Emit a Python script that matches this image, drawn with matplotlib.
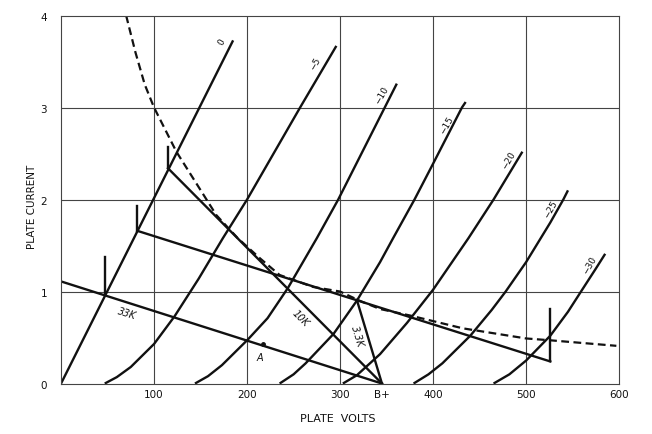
import numpy as np
import matplotlib
matplotlib.use('Agg')
import matplotlib.pyplot as plt

# plate characteristics (plate volts, plate current)
grid_bias = ['0', '\u22125', '\u221210', '\u221215', '\u221220', '\u221225', '\u221230']
curve_v = [
    [0, 185],
    [47, 60, 75, 100, 122, 148, 174, 200, 257, 296],
    [144, 158, 173, 201, 222, 244, 275, 298, 348, 361],
    [235, 250, 263, 293, 318, 343, 357, 380, 400, 431, 435],
    [303, 318, 343, 372, 400, 438, 465, 496],
    [379, 395, 410, 440, 463, 478, 500, 526, 540, 545],
    [465, 482, 500, 526, 545, 559, 575, 585],
]
curve_i = [
    [0, 3.73],
    [0, 0.07, 0.18, 0.43, 0.73, 1.14, 1.58, 2.0, 3.0, 3.67],
    [0, 0.08, 0.2, 0.48, 0.71, 1.04, 1.58, 2.0, 3.0, 3.26],
    [0, 0.1, 0.22, 0.54, 0.90, 1.32, 1.58, 2.0, 2.39, 3.0, 3.06],
    [0, 0.09, 0.32, 0.66, 1.02, 1.58, 2.0, 2.52],
    [0, 0.1, 0.22, 0.52, 0.80, 1.0, 1.32, 1.75, 2.0, 2.1],
    [0, 0.1, 0.25, 0.52, 0.78, 1.0, 1.25, 1.41],
]
label_v = [173, 273, 345, 415, 481, 526, 568]
label_i = [3.72, 3.48, 3.14, 2.81, 2.43, 1.90, 1.29]

# plate dissipation curve (dashed)
diss_v = [70, 80, 90, 100, 124, 167, 190, 214, 235, 271, 300, 321, 343, 375, 432, 500, 526, 597]
diss_i = [4.0, 3.6, 3.25, 3.0, 2.52, 1.83, 1.58, 1.36, 1.18, 1.05, 1.0, 0.90, 0.81, 0.74, 0.60, 0.49, 0.47, 0.41]

# load lines: B+ and the start point of each line
b_plus = 345
load_names = ['33K', '10K', '3.3K']
load_start_v = [0, 115, 318]
load_start_i = [1.11, 2.34, 0.91]
load_label_v = [71, 257, 318]
load_label_i = [0.77, 0.72, 0.52]
load_label_rot = [-17, -45, -73]

# long ac load line
ac_v = [82, 526]
ac_i = [1.66, 0.24]

# short vertical marks (volts, bottom, top)
mark_v = [47, 82, 115, 526]
mark_lo = [0.96, 1.66, 2.34, 0.24]
mark_hi = [1.37, 1.93, 2.57, 0.81]

point_a = (217, 0.43)

x_ticks = [100, 200, 300, b_plus, 400, 500, 600]
x_tick_labels = ['100', '200', '300', 'B+', '400', '500', '600']
y_ticks = [0, 1, 2, 3, 4]

fig = plt.figure(figsize=(6.52, 4.35), dpi=100)
ax = fig.add_axes([0.0936, 0.116, 0.856, 0.846])

ink = '#111111'
lw = 1.7

for v, i in zip(curve_v, curve_i):
    ax.plot(v, i, color=ink, lw=lw, solid_joinstyle='round', solid_capstyle='butt')

for txt, v, i in zip(grid_bias, label_v, label_i):
    ax.text(v, i, txt, rotation=60, fontsize=6.5, ha='center', va='center', color=ink)

ax.plot(diss_v, diss_i, color=ink, lw=1.6, ls=(0, (3.5, 2)))

for v0, i0 in zip(load_start_v, load_start_i):
    ax.plot([v0, b_plus], [i0, 0], color=ink, lw=lw)
for name, v, i, r in zip(load_names, load_label_v, load_label_i, load_label_rot):
    ax.text(v, i, name, rotation=r, fontsize=7, style='italic', ha='center', va='center', color=ink)

ax.plot(ac_v, ac_i, color=ink, lw=lw)

for v, lo, hi in zip(mark_v, mark_lo, mark_hi):
    ax.plot([v, v], [lo, hi], color=ink, lw=lw)

ax.plot(*point_a, marker='o', ms=2.5, color=ink)
ax.text(214, 0.29, 'A', fontsize=7, style='italic', ha='center', va='center', color=ink)

ax.set_xlim(0, 600)
ax.set_ylim(0, 4)
ax.set_xticks(x_ticks)
ax.set_xticklabels(x_tick_labels)
ax.set_yticks(y_ticks)
ax.tick_params(length=0, labelsize=7.5, colors=ink)
ax.tick_params(axis='x', pad=4)
ax.tick_params(axis='y', pad=10)

for v in [100, 200, 300, 400, 500]:
    ax.axvline(v, color='#444444', lw=0.8, zorder=0)
for i in [1, 2, 3]:
    ax.axhline(i, color='#444444', lw=0.8, zorder=0)
for s in ax.spines.values():
    s.set_color('#444444')
    s.set_linewidth(0.8)

fig.text(338 / 652, 1 - 419 / 435, 'PLATE  VOLTS', fontsize=8,
         ha='center', va='center', color=ink)
fig.text(32 / 652, 1 - 207 / 435, 'PLATE CURRENT', fontsize=7.5, rotation=90,
         ha='center', va='center', color=ink)

fig.savefig('out.png', dpi=100)
